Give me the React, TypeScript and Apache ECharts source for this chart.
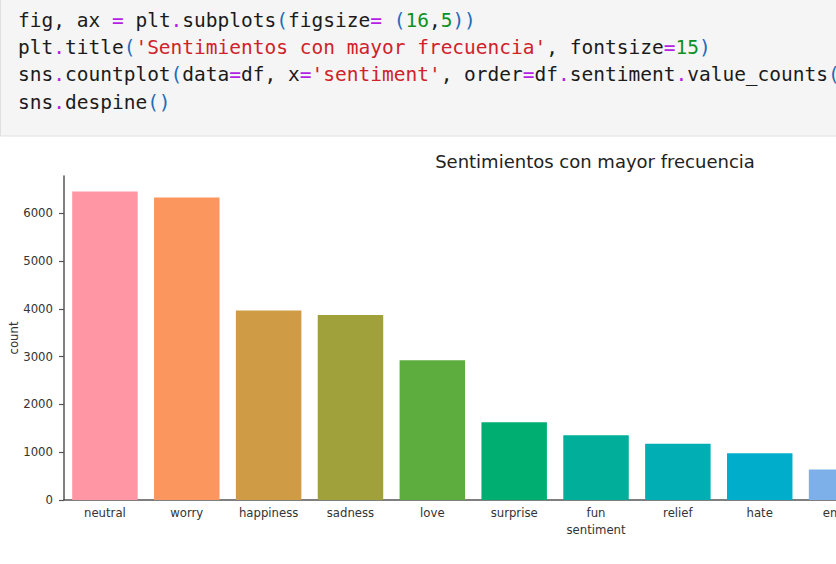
import React, { useEffect, useRef } from "react";
import * as echarts from "echarts";

// ---- data ----
const categories = [
  "neutral", "worry", "happiness", "sadness", "love", "surprise", "fun",
  "relief", "hate", "empty", "enthusiasm", "boredom", "anger",
];
const counts = [6455, 6330, 3966, 3868, 2921, 1624, 1353, 1179, 976, 636, 570, 134, 82];
const barColors = [
  "#ff96a3", "#fb965f", "#cf9b45", "#a1a13c", "#5dac3e", "#00ae72", "#00ae9a",
  "#00aeb4", "#00aecc", "#7db0e8", "#b09cf0", "#e28fe8", "#f890cb",
];
const yTicks = [0, 1000, 2000, 3000, 4000, 5000, 6000];
const titleText = "Sentimientos con mayor frecuencia";
const xLabel = "sentiment";
const yLabel = "count";

// code cell lines: [token, style] pairs
const codeLines: [string, string][][] = [
  [["fig, ax ", "n"], ["=", "o"], [" plt", "n"], [".", "o"], ["subplots", "n"], ["(", "p"], ["figsize", "n"], ["=", "o"], [" ", "n"], ["(", "p"], ["16", "g"], [",", "n"], ["5", "g"], ["))", "p"]],
  [["plt", "n"], [".", "o"], ["title", "n"], ["(", "p"], ["'Sentimientos con mayor frecuencia'", "s"], [", fontsize", "n"], ["=", "o"], ["15", "g"], [")", "p"]],
  [["sns", "n"], [".", "o"], ["countplot", "n"], ["(", "p"], ["data", "n"], ["=", "o"], ["df, x", "n"], ["=", "o"], ["'sentiment'", "s"], [", order", "n"], ["=", "o"], ["df", "n"], [".", "o"], ["sentiment", "n"], [".", "o"], ["value_counts", "n"], ["()", "p"], [".", "o"], ["index", "n"], [")", "p"]],
  [["sns", "n"], [".", "o"], ["despine", "n"], ["()", "p"]],
];

const codeFont = "'DejaVu Sans Mono', 'Liberation Mono', monospace";
const plotFont = "'DejaVu Sans', sans-serif";
const CHART_W = 1200;

export default function App() {
  const ref = useRef<HTMLDivElement>(null);
  useEffect(() => {
    if (!ref.current) return;
    const chart = echarts.init(ref.current, null, { renderer: "svg" });
    const codeStyles: Record<string, string> = {
      n: "#1b1b1b",
      o: "#b41ee6",
      p: "#1e6cb8",
      g: "#10901e",
      s: "#d0222a",
    };
    const rich: any = {};
    Object.entries(codeStyles).forEach(([k, v]) => {
      rich[k] = { fill: v, fontFamily: codeFont, fontSize: 19.5 };
    });
    const codeGraphics = codeLines.map((line, i) => ({
      type: "text",
      x: 18,
      y: 10.5 + i * 27.2,
      style: {
        text: line.map(([t, s]) => `{${s}|${t}}`).join(""),
        rich,
        fontFamily: codeFont,
        fontSize: 19.5,
        fill: "#1b1b1b",
      },
    }));
    const maxY = Math.max(...counts) * 1.05;
    chart.setOption({
      animation: false,
      backgroundColor: "#ffffff",
      title: {
        text: titleText,
        left: 590,
        top: 147,
        textAlign: "center",
        textStyle: { fontFamily: plotFont, fontSize: 18, fontWeight: "normal", color: "#222" },
      },
      graphic: [
        {
          type: "rect",
          shape: { x: 0.5, y: -5, width: 1300, height: 141 },
          style: { fill: "#f5f5f5", stroke: "#e0e0e0", lineWidth: 1 },
          z: -1,
        },
        ...codeGraphics,
      ],
      grid: {
        left: 64, top: 176, width: 13 * 81.85, height: 324,
        containLabel: false, outerBoundsMode: "none",
      },
      xAxis: {
        type: "category",
        data: categories,
        name: xLabel,
        nameLocation: "middle",
        nameGap: 24,
        nameTextStyle: { fontFamily: plotFont, fontSize: 11.7, color: "#333" },
        axisLine: { lineStyle: { color: "#555", width: 1.5 } },
        axisTick: { alignWithLabel: true, length: 5, lineStyle: { color: "#555", width: 1.2 } },
        axisLabel: { fontFamily: plotFont, fontSize: 11.7, color: "#333", margin: 7, interval: 0 },
      },
      yAxis: {
        type: "value",
        min: 0,
        max: maxY,
        interval: 1000,
        name: yLabel,
        nameLocation: "middle",
        nameGap: 44,
        nameMoveOverlap: false,
        nameTextStyle: { fontFamily: plotFont, fontSize: 11.7, color: "#333" },
        axisLine: { show: true, lineStyle: { color: "#555", width: 1.5 } },
        axisTick: { show: true, length: 5, customValues: yTicks, lineStyle: { color: "#555", width: 1.2 } },
        axisLabel: {
          fontFamily: plotFont, fontSize: 11.7, color: "#333", margin: 11,
          customValues: yTicks, formatter: (v: number) => String(v),
        },
        splitLine: { show: false },
      },
      series: [
        {
          type: "bar",
          barCategoryGap: "20%",
          data: counts.map((v, i) => ({ value: v, itemStyle: { color: barColors[i] } })),
        },
      ],
    });
    return () => chart.dispose();
  }, []);
  return (
    <div style={{ position: "fixed", left: 0, top: 0, width: 836, height: 564, overflow: "hidden", background: "#fff" }}>
      <div ref={ref} style={{ width: CHART_W, height: 564 }} />
    </div>
  );
}
